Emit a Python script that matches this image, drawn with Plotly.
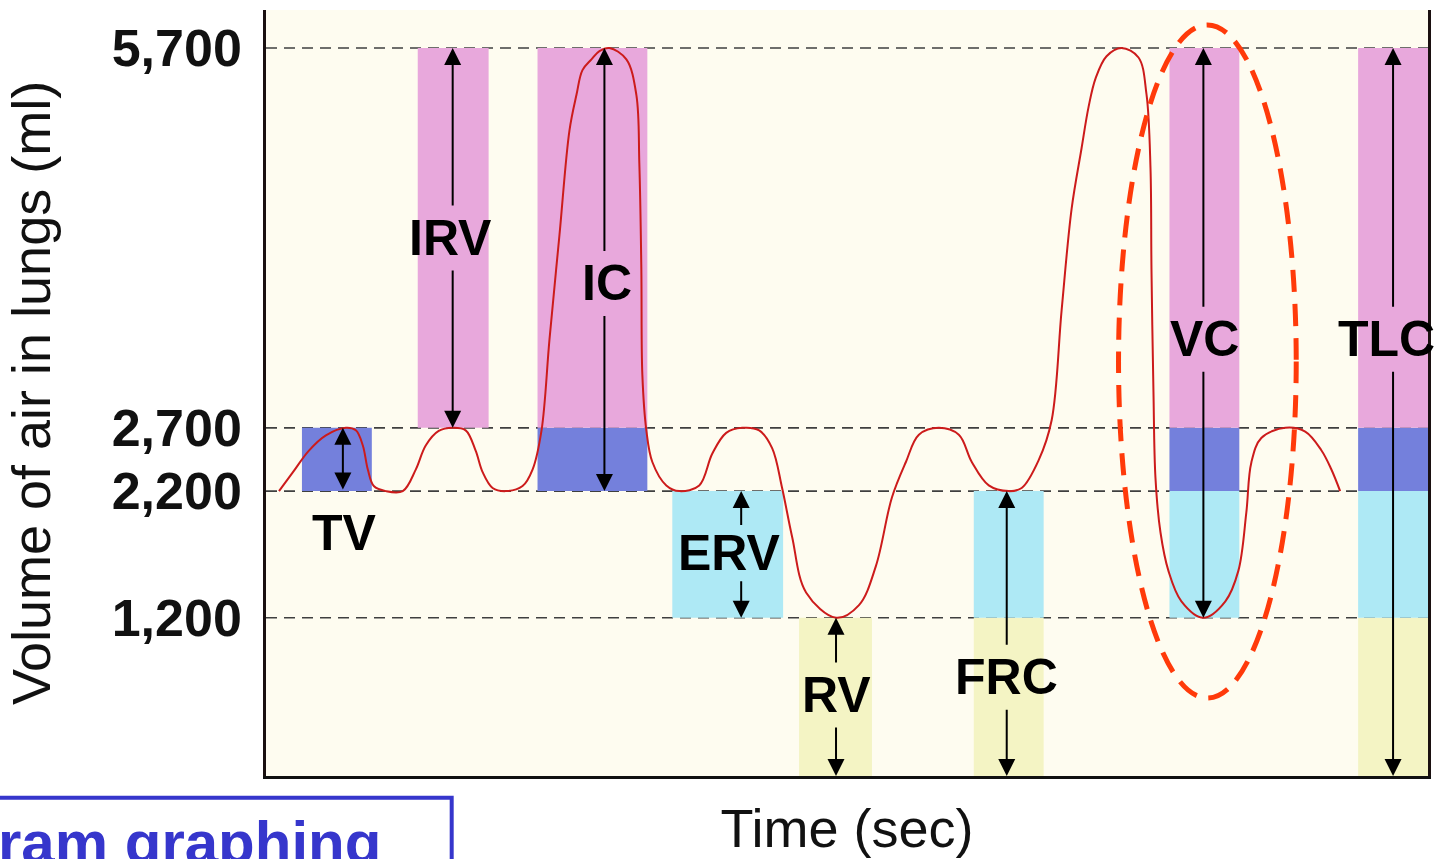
import plotly.graph_objects as go

# ---------------- data ----------------
# breathing trace: time (s) and lung volume (ml)
time_s = [0.325, 0.675, 1.075, 1.5, 2.0, 2.25, 2.425, 2.55, 2.7, 3.0,
          3.425, 3.75, 4.0, 4.325, 4.675, 5.0, 5.25, 5.425, 5.675, 6.0,
          6.425, 6.675, 6.9, 7.1, 7.35, 7.6, 7.775, 7.925, 8.15, 8.35, 8.6, 9.025,
          9.275, 9.35, 9.4, 9.425, 9.525, 9.675, 10.025, 10.35, 10.85, 11.175,
          11.525, 11.925, 12.35, 12.675, 12.925, 13.175, 13.525, 14.275, 14.85, 15.275,
          15.675, 16.025, 16.35, 16.85, 17.35, 17.675, 18.1, 18.6, 18.925, 19.35,
          19.675, 19.925, 20.175, 20.425, 20.6, 20.775, 21.05, 21.425, 21.85, 22.05, 22.15, 22.175,
          22.225, 22.275, 22.4, 22.6, 22.925, 23.475, 24.025, 24.35, 24.55, 24.675,
          24.925, 25.525, 26.025, 26.425, 26.675, 26.9]
volume_ml = [2200, 2350, 2520, 2640, 2700, 2680, 2560, 2370, 2240, 2200,
             2200, 2370, 2560, 2675, 2700, 2680, 2520, 2350, 2225, 2200,
             2240, 2370, 2680, 3400, 4225, 5050, 5330, 5525, 5610, 5675, 5700, 5610,
             5330, 4780, 3950, 3120, 2680, 2430, 2245, 2200, 2245, 2495,
             2660, 2700, 2680, 2540, 2225, 1840, 1400, 1200, 1300, 1610,
             2150, 2430, 2645, 2700, 2645, 2430, 2245, 2200, 2225, 2445,
             2760, 3630, 4430, 4910, 5235, 5460, 5635, 5700, 5625, 5335, 4755, 3950,
             2980, 2305, 1875, 1570, 1330, 1200, 1330, 1570, 2030, 2425,
             2620, 2700, 2670, 2525, 2375, 2200]

# reference volume levels (ml)
level_values = [1200, 2200, 2700, 5700]
level_labels = ["1,200", "2,200", "2,700", "5,700"]

# lung volumes / capacities shown as coloured bands
band_names = ["TV", "IRV", "IC", "ERV", "RV", "FRC", "VC", "TLC"]
band_t0 = [0.9, 3.8, 6.8, 10.175, 13.35, 17.725, 22.625, 27.35]
band_t1 = [2.65, 5.575, 9.55, 12.95, 15.175, 19.475, 24.375, 29.1]
band_low = [2200, 2700, 2200, 1200, 0, 0, 1200, 0]
band_high = [2700, 5700, 5700, 2200, 1200, 2200, 5700, 5700]

# measuring arrows: time position, label position and label volume
arrow_t = [1.925, 4.675, 8.475, 11.9, 14.275, 18.55, 23.475, 28.225]
label_t = [1.975, 4.625, 8.55, 11.6, 14.275, 18.55, 23.5, 28.05]
label_ml = [1870, 4200, 3840, 1710, 590, 730, 3400, 3400]

# ---------------- layout constants ----------------
Y_MIN, Y_MAX = -50, 6000
X_MAX = 29.1
segment_colors = {"yellow": "#f4f4c4", "cyan": "#aee9f5", "blue": "#7480dc", "pink": "#e8a8dc"}
segment_bounds = [(-1e9, 1200, "yellow"), (1200, 2200, "cyan"), (2200, 2700, "blue"), (2700, 5700, "pink")]
label_font = dict(family="Liberation Sans", size=50, color="black", weight="bold")

fig = go.Figure()
fig.add_trace(go.Scatter(x=time_s, y=volume_ml, mode="lines",
                         line=dict(color="#cc1b1b", width=2, shape="spline", smoothing=1.0),
                         hoverinfo="skip", showlegend=False))

shapes = []
# coloured bands (split into volume compartments)
for t0, t1, lo, hi in zip(band_t0, band_t1, band_low, band_high):
    for s_lo, s_hi, key in segment_bounds:
        a, b = max(lo, s_lo), min(hi, s_hi)
        if b > a:
            y0 = Y_MIN if a <= 0 else a
            shapes.append(dict(type="rect", xref="x", yref="y", x0=t0, x1=t1, y0=y0, y1=b,
                               fillcolor=segment_colors[key], line=dict(width=0), layer="below"))
# dashed level lines
for v in level_values:
    shapes.append(dict(type="line", xref="paper", yref="y", x0=0, x1=1, y0=v, y1=v,
                       line=dict(color="#3f3f3f", width=1.7, dash="11px,7px"), layer="below"))
# highlight ellipse around VC
shapes.append(dict(type="circle", xref="x", yref="y", x0=21.35, x1=25.8, y0=566, y1=5882,
                   line=dict(color="#ff3a0a", width=5, dash="22px,12px"), layer="above"))
# blue caption box (bottom-left)
shapes.append(dict(type="rect", xref="paper", yref="paper", x0=-0.26, x1=0.1598, y0=-0.0285, y1=-0.2,
                   line=dict(color="#3636cc", width=4), fillcolor="rgba(0,0,0,0)", layer="above"))

annotations = []
arrow_style = dict(showarrow=True, arrowhead=2, arrowsize=1.7, arrowwidth=2, arrowcolor="black",
                   axref="x", ayref="y", xref="x", yref="y", text="")
for name, at, lt, lv, lo, hi in zip(band_names, arrow_t, label_t, label_ml, band_low, band_high):
    lo_v = Y_MIN if lo == 0 else lo
    if name == "TV":
        annotations.append(dict(x=at, y=hi, ax=at, ay=lo_v, arrowside="end+start", **arrow_style))
    else:
        gap = 210 if name == "ERV" else 245
        annotations.append(dict(x=at, y=hi, ax=at, ay=lv + gap, **arrow_style))
        annotations.append(dict(x=at, y=lo_v, ax=at, ay=lv - gap, **arrow_style))
    annotations.append(dict(x=lt, y=lv, xref="x", yref="y", text=name, showarrow=False,
                            font=label_font, xanchor="center", yanchor="middle"))

annotations.append(dict(x=0.1005, y=-0.04, xref="paper", yref="paper", text="ram graphing",
                        showarrow=False, xanchor="right", yanchor="top",
                        font=dict(family="Liberation Sans", size=60, color="#3636cc", weight="bold")))

fig.update_layout(
    width=1441, height=859,
    margin=dict(l=266, r=11, t=10, b=83),
    paper_bgcolor="white", plot_bgcolor="#fefcf0",
    shapes=shapes, annotations=annotations, showlegend=False,
    xaxis=dict(range=[0, X_MAX], showgrid=False, zeroline=False, showticklabels=False, ticks="",
               showline=True, linecolor="#111", linewidth=2.5,
               title=dict(text="Time (sec)", standoff=32,
                          font=dict(family="Liberation Sans", size=54, color="#111"))),
    yaxis=dict(range=[Y_MIN, Y_MAX], showgrid=False, zeroline=False,
               tickvals=level_values, ticktext=level_labels, ticks="", ticklabelstandoff=11,
               tickfont=dict(family="Liberation Sans", size=52, color="#111", weight="bold"),
               showline=True, mirror=True, linecolor="#1a1010", linewidth=2.5,
               title=dict(text="Volume of air in lungs (ml)", standoff=44,
                          font=dict(family="Liberation Sans", size=54, color="#111"))),
)

fig.write_html("out.html", config={"displayModeBar": False},
               post_script="document.body.style.margin='0';document.body.style.overflow='hidden';")
